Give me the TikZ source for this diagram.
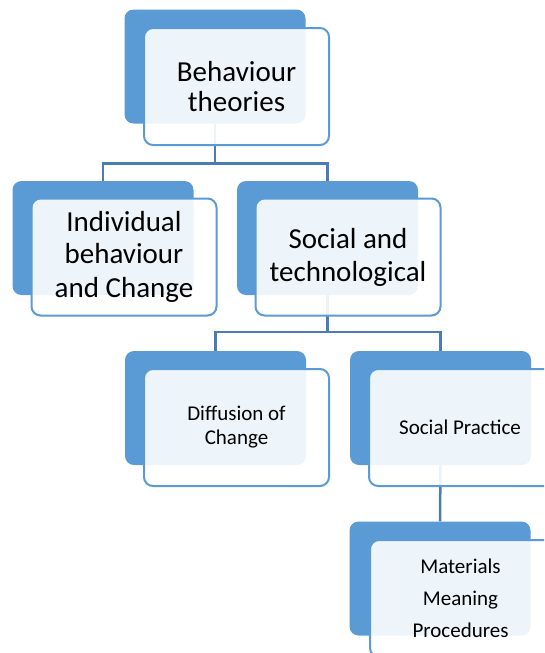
\documentclass[tikz,border=0pt]{standalone}
\usepackage{fontspec}
\setmainfont{Carlito}
\definecolor{accent}{HTML}{5B9BD5}
\definecolor{conn}{HTML}{4A7DB3}
\begin{document}
\begin{tikzpicture}[x=1pt,y=-1pt,
  backbox/.style={fill=accent, rounded corners=9pt, minimum width=181pt, minimum height=114pt, inner sep=0pt},
  frontbox/.style={draw=accent, line width=2pt, fill=white, fill opacity=0.9, text opacity=1, draw opacity=1,
     rounded corners=9pt, minimum width=185pt, minimum height=117pt, inner sep=0pt, align=center},
  bigtext/.style={font=\fontsize{29}{33}\selectfont},
  smalltext/.style={font=\fontsize{21}{24}\selectfont},
  link/.style={draw=conn, line width=2.5pt}]
\useasboundingbox (0,0) rectangle (544,653);
\clip (0,0) rectangle (544,653);
% back boxes
\node[backbox] (b1) at (215,66.5) {};
\node[backbox] (b2) at (103,238) {};
\node[backbox] (b3) at (327.5,238) {};
\node[backbox] (b4) at (215.5,408) {};
\node[backbox] (b5) at (440.5,408) {};
\node[backbox] (b6) at (440,578.5) {};
% connectors
\draw[link] (b1.south) -- ++(0,40) -| (b2.north);
\draw[link] (b1.south) -- ++(0,40) -| (b3.north);
\draw[link] (b3.south) -- ++(0,37) -| (b4.north);
\draw[link] (b3.south) -- ++(0,37) -| (b5.north);
\draw[link] (b5.south) -- (b6.north);
% front boxes
\node[frontbox, font=\fontsize{29}{30}\selectfont] (f1) at (236.5,86.5) {Behaviour\\theories};
\node[frontbox, font=\fontsize{29}{34.5}\selectfont] (f2) at (124,257) {\raisebox{-3pt}{Individual}\\behaviour\\and Change};
\node[frontbox, bigtext] (f3) at (348,257) {Social and\\technological};
\node[frontbox, smalltext] (f4) at (236.5,427.5) {Diffusion of\\Change};
\node[frontbox, smalltext] (f5) at (461.5,427.5) {\hspace*{-3pt}Social Practice};
\node[frontbox, font=\fontsize{21}{32}\selectfont, text depth=0pt] (f6) at (462.5,598.5) {\hspace*{-4pt}Materials\\\hspace*{-4pt}Meaning\\\hspace*{-4pt}Procedures};
\end{tikzpicture}
\end{document}
